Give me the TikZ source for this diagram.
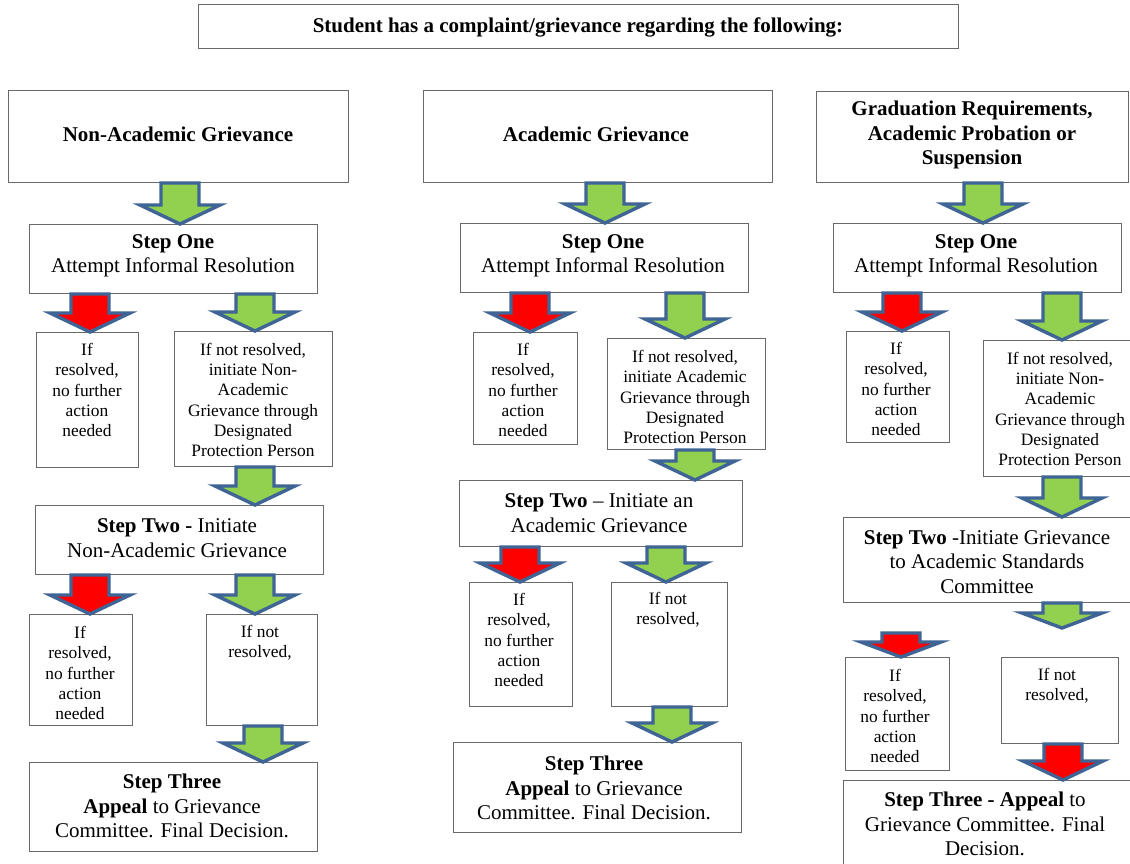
\documentclass[tikz,border=0pt]{standalone}
\usepackage{fontspec}
\setmainfont{Liberation Serif}
\usetikzlibrary{calc}
\definecolor{arrowblue}{RGB}{63,100,150}
\definecolor{agreen}{RGB}{146,208,80}
\definecolor{ared}{RGB}{255,0,0}
\definecolor{boxgray}{RGB}{105,105,105}
\newcommand\bigtxt{\fontsize{21}{24.5}\selectfont}
\newcommand\smtxt{\fontsize{17.4}{20.2}\selectfont}
% #1 head length, #2 fill colour, #3 x of arrow, #4 start point, #5 tip point
\newcommand\blockarrow[5][19]{%
  \draw[barrow, fill=#2] let \p1=(#4), \p2=(#5), \p3=(#3,0) in
    (\x3-19pt,\y1) -- (\x3+19pt,\y1) -- (\x3+19pt,\y2+#1pt) -- (\x3+40pt,\y2+#1pt)
    -- (\x3,\y2) -- (\x3-40pt,\y2+#1pt) -- (\x3-19pt,\y2+#1pt) -- cycle;}
\begin{document}
\begin{tikzpicture}[x=1pt,y=-1pt,
  box/.style={draw=boxgray, line width=1pt, fill=white, inner sep=0pt, anchor=north west},
  barrow/.style={draw=arrowblue, line width=3.4pt, line join=miter},
  big/.style={align=center, inner sep=0pt, font=\bigtxt},
  small/.style={align=center, inner sep=0pt, font=\smtxt}]
\fill[white] (0,0) rectangle (1130,863);
\useasboundingbox (0,0) rectangle (1130,863);
\clip (0,0) rectangle (1130,863);

% top
\node[box, minimum width=760pt, minimum height=44pt] (top) at (198,4) {};
\node[big] (ttop) at (578,27) {\textbf{Student has a complaint/grievance regarding the following:}};

% ---------- left column
\node[box, minimum width=340pt, minimum height=92pt] (L0) at (8,90) {};
\node[big] (tL0) at (178,134) {\textbf{Non-Academic Grievance}};
\node[box, minimum width=288pt, minimum height=69pt] (L1) at (29,224) {};
\node[big] (tL1) at (173,256) {\textbf{Step One}\\Attempt Informal Resolution};
\node[box, minimum width=102pt, minimum height=135pt] (L2a) at (36,332) {};
\node[small] (tL2a) at (87,390) {If\\resolved,\\no further\\action\\needed};
\node[box, minimum width=158pt, minimum height=135pt] (L2b) at (174,331) {};
\node[small] (tL2b) at (253,400) {If not resolved,\\initiate Non-\\Academic\\Grievance through\\Designated\\Protection Person};
\node[box, minimum width=288pt, minimum height=69pt] (L3) at (35,505) {};
\node[big] (tL3) at (177,538) {\textbf{Step Two -} Initiate\\Non-Academic Grievance};
\node[box, minimum width=103pt, minimum height=111pt] (L4a) at (29,614) {};
\node[small] (tL4a) at (80,673) {If\\resolved,\\no further\\action\\needed};
\node[box, minimum width=111pt, minimum height=111pt] (L4b) at (206,614) {};
\node[small] (tL4b) at (260,643) {If not\\resolved,};
\node[box, minimum width=288pt, minimum height=89pt] (L5) at (29,762) {};
\node[big] (tL5) at (172,806) {\textbf{Step Three}\\\textbf{Appeal} to Grievance\\Committee. Final Decision.};

% ---------- middle column
\node[box, minimum width=349pt, minimum height=92pt] (M0) at (423,90) {};
\node[big] (tM0) at (596,134) {\textbf{Academic Grievance}};
\node[box, minimum width=288pt, minimum height=69pt] (M1) at (460,223) {};
\node[big] (tM1) at (603,256) {\textbf{Step One}\\Attempt Informal Resolution};
\node[box, minimum width=104pt, minimum height=112pt] (M2a) at (473,332) {};
\node[small] (tM2a) at (523,390) {If\\resolved,\\no further\\action\\needed};
\node[box, minimum width=158pt, minimum height=111pt] (M2b) at (607,338) {};
\node[small] (tM2b) at (685,397) {If not resolved,\\initiate Academic\\Grievance through\\Designated\\Protection Person};
\node[box, minimum width=283pt, minimum height=66pt] (M3) at (459,480) {};
\node[big] (tM3) at (599,513) {\textbf{Step Two} -- Initiate an\\Academic Grievance};
\node[box, minimum width=103pt, minimum height=124pt] (M4a) at (469,582) {};
\node[small] (tM4a) at (519,640) {If\\resolved,\\no further\\action\\needed};
\node[box, minimum width=116pt, minimum height=124pt] (M4b) at (611,582) {};
\node[small] (tM4b) at (668,610) {If not\\resolved,};
\node[box, minimum width=288pt, minimum height=90pt] (M5) at (453,742) {};
\node[big] (tM5) at (594,788) {\textbf{Step Three}\\\textbf{Appeal} to Grievance\\Committee. Final Decision.};

% ---------- right column
\node[box, minimum width=312pt, minimum height=91pt] (R0) at (816,91) {};
\node[big] (tR0) at (972,135) {\textbf{Graduation Requirements,}\\\textbf{Academic Probation or}\\\textbf{Suspension}};
\node[box, minimum width=288pt, minimum height=69pt] (R1) at (833,223) {};
\node[big] (tR1) at (976,256) {\textbf{Step One}\\Attempt Informal Resolution};
\node[box, minimum width=103pt, minimum height=111pt] (R2a) at (846,331) {};
\node[small] (tR2a) at (896,389) {If\\resolved,\\no further\\action\\needed};
\node[box, minimum width=155pt, minimum height=136pt] (R2b) at (983,340) {};
\node[small] (tR2b) at (1060,409) {If not resolved,\\initiate Non-\\Academic\\Grievance through\\Designated\\Protection Person};
\node[box, minimum width=289pt, minimum height=85pt] (R3) at (843,517) {};
\node[big] (tR3) at (987,562) {\textbf{Step Two} -Initiate Grievance\\to Academic Standards\\Committee};
\node[box, minimum width=104pt, minimum height=113pt] (R4a) at (845,657) {};
\node[small] (tR4a) at (895,716) {If\\resolved,\\no further\\action\\needed};
\node[box, minimum width=117pt, minimum height=86pt] (R4b) at (1001,657) {};
\node[small] (tR4b) at (1057,686) {If not\\resolved,};
\node[box, minimum width=289pt, minimum height=100pt] (R5) at (843,780) {};
\node[big] (tR5) at (985,824) {\textbf{Step Three - Appeal} to\\Grievance Committee. Final\\Decision.};

\coordinate (g1) at (1062,628);
\coordinate (r1) at (901,633);

% ---------- arrows
\blockarrow{agreen}{180}{L0.south}{L1.north}
\blockarrow{ared}{90}{L1.south}{L2a.north}
\blockarrow{agreen}{255}{L1.south}{L2b.north}
\blockarrow{agreen}{255}{L2b.south}{L3.north}
\blockarrow{ared}{90}{L3.south}{L4a.north}
\blockarrow{agreen}{255}{L3.south}{L4b.north}
\blockarrow{agreen}{263}{L4b.south}{L5.north}

\blockarrow{agreen}{605}{M0.south}{M1.north}
\blockarrow{ared}{530}{M1.south}{M2a.north}
\blockarrow{agreen}{685}{M1.south}{M2b.north}
\blockarrow{agreen}{695}{M2b.south}{M3.north}
\blockarrow{ared}{520}{M3.south}{M4a.north}
\blockarrow{agreen}{666}{M3.south}{M4b.north}
\blockarrow{agreen}{672}{M4b.south}{M5.north}

\blockarrow{agreen}{983}{R0.south}{R1.north}
\blockarrow{ared}{902}{R1.south}{R2a.north}
\blockarrow{agreen}{1062}{R1.south}{R2b.north}
\blockarrow{agreen}{1062}{R2b.south}{R3.north}
\blockarrow[15]{agreen}{1062}{R3.south}{g1}
\blockarrow[15]{ared}{901}{r1}{R4a.north}
\blockarrow{ared}{1063}{R4b.south}{R5.north}
\end{tikzpicture}
\end{document}
